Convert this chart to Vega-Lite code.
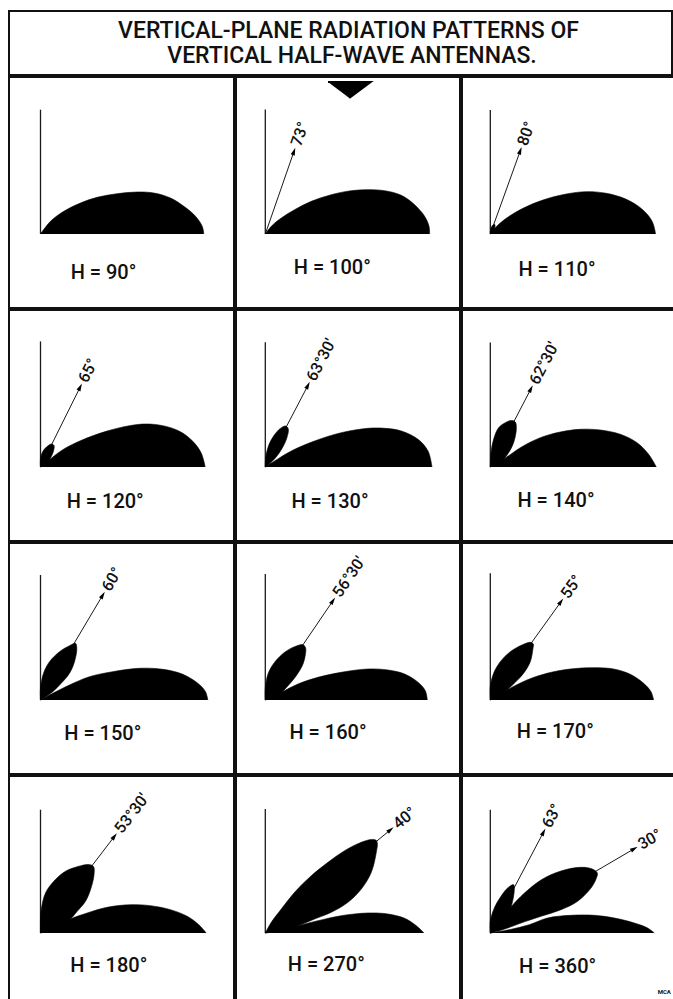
{
  "$schema": "https://vega.github.io/schema/vega-lite/v6.json",
  "padding": {"left": 8, "top": 10, "right": 0, "bottom": 0},
  "background": "white",
  "config": {
    "view": {"stroke": "#111111", "strokeWidth": 2},
    "font": "Roboto",
    "concat": {"spacing": 0},
    "facet": {"spacing": 0}
  },
  "spacing": 0,
  "vconcat": [
    {
      "width": 663,
      "height": 64,
      "data": {"values": [
        {"t": "VERTICAL-PLANE RADIATION PATTERNS OF", "x": 339.5, "y": 37.3},
        {"t": "VERTICAL HALF-WAVE ANTENNAS.", "x": 343, "y": 12}
      ]},
      "mark": {"type": "text", "font": "Roboto", "fontSize": 23, "fontWeight": 500, "align": "center", "baseline": "alphabetic", "color": "#111111"},
      "encoding": {
        "x": {"field": "x", "type": "quantitative", "scale": {"domain": [0, 663]}, "axis": null},
        "y": {"field": "y", "type": "quantitative", "scale": {"domain": [0, 64]}, "axis": null},
        "text": {"field": "t"}
      }
    },
    {
      "data": {"values": [
        {"p":1,"k":"A","u":0,"v":0,"v2":124.3},
        {"p":2,"k":"A","u":0,"v":0,"v2":124.4},
        {"p":3,"k":"A","u":0,"v":0,"v2":124},
        {"p":4,"k":"A","u":0,"v":0,"v2":125.6},
        {"p":5,"k":"A","u":0,"v":0,"v2":124.7},
        {"p":6,"k":"A","u":0,"v":0,"v2":124.4},
        {"p":7,"k":"A","u":0,"v":0,"v2":125},
        {"p":8,"k":"A","u":0,"v":0,"v2":126},
        {"p":9,"k":"A","u":0,"v":0,"v2":126.7},
        {"p":10,"k":"A","u":0,"v":0,"v2":123.3},
        {"p":11,"k":"A","u":0,"v":0,"v2":124},
        {"p":12,"k":"A","u":0,"v":0,"v2":123.3},

        {"p":1,"k":"H","u":63,"v":-38.7,"t":"H = 90°"},
        {"p":2,"k":"H","u":67,"v":-34,"t":"H = 100°"},
        {"p":3,"k":"H","u":66.7,"v":-36,"t":"H = 110°"},
        {"p":4,"k":"H","u":64.7,"v":-35.3,"t":"H = 120°"},
        {"p":5,"k":"H","u":64.7,"v":-35,"t":"H = 130°"},
        {"p":6,"k":"H","u":65.7,"v":-34,"t":"H = 140°"},
        {"p":7,"k":"H","u":62.3,"v":-34.3,"t":"H = 150°"},
        {"p":8,"k":"H","u":62.7,"v":-33.3,"t":"H = 160°"},
        {"p":9,"k":"H","u":65,"v":-32,"t":"H = 170°"},
        {"p":10,"k":"H","u":68.3,"v":-32.7,"t":"H = 180°"},
        {"p":11,"k":"H","u":61,"v":-32,"t":"H = 270°"},
        {"p":12,"k":"H","u":67.3,"v":-34.3,"t":"H = 360°"},
        {"p":12,"k":"W","u":174,"v":-59,"t":"MCA"},

        {"p":2,"k":"R","u":28.7,"v":82.7,"deg":70.9,"t":"73°"},
        {"p":3,"k":"R","u":30,"v":83.3,"deg":70.2,"t":"80°"},
        {"p":4,"k":"R","u":39.7,"v":80,"deg":63.6,"t":"65°"},
        {"p":5,"k":"R","u":42.7,"v":81.7,"deg":62.4,"t":"63°30'"},
        {"p":6,"k":"R","u":40.7,"v":78.3,"deg":62.5,"t":"62°30'"},
        {"p":7,"k":"R","u":62.3,"v":105,"deg":59.3,"t":"60°"},
        {"p":8,"k":"R","u":67.7,"v":99.3,"deg":55.7,"t":"56°30'"},
        {"p":9,"k":"R","u":70.7,"v":98.3,"deg":54.3,"t":"55°"},
        {"p":10,"k":"R","u":74,"v":96.7,"deg":52.6,"t":"53°30'"},
        {"p":11,"k":"R","u":125.3,"v":103.3,"deg":39.5,"t":"40°"},
        {"p":12,"k":"R","u":53.3,"v":101,"deg":62.2,"t":"63°"},
        {"p":12,"k":"R","u":144,"v":84.3,"deg":30.3,"t":"30°"},

        {"p":2,"k":"M","i":0,"u":62.7,"v":152},
        {"p":2,"k":"M","i":1,"u":105.4,"v":152},
        {"p":2,"k":"M","i":2,"u":84,"v":136},

        {"p":1,"k":"L","g":"1a","i":0,"u":163.3,"v":0},
        {"p":1,"k":"L","g":"1a","i":1,"u":161.7,"v":7.7},
        {"p":1,"k":"L","g":"1a","i":2,"u":155,"v":17.7},
        {"p":1,"k":"L","g":"1a","i":3,"u":143.3,"v":27.7},
        {"p":1,"k":"L","g":"1a","i":4,"u":130,"v":36},
        {"p":1,"k":"L","g":"1a","i":5,"u":113.3,"v":41},
        {"p":1,"k":"L","g":"1a","i":6,"u":96.7,"v":42},
        {"p":1,"k":"L","g":"1a","i":7,"u":76.7,"v":40.3},
        {"p":1,"k":"L","g":"1a","i":8,"u":56.7,"v":36.7},
        {"p":1,"k":"L","g":"1a","i":9,"u":40,"v":31},
        {"p":1,"k":"L","g":"1a","i":10,"u":23.3,"v":22.7},
        {"p":1,"k":"L","g":"1a","i":11,"u":10,"v":12.7},
        {"p":1,"k":"L","g":"1a","i":12,"u":0,"v":0},

        {"p":2,"k":"L","g":"2a","i":0,"u":164.3,"v":0},
        {"p":2,"k":"L","g":"2a","i":1,"u":163.7,"v":7.7},
        {"p":2,"k":"L","g":"2a","i":2,"u":159.3,"v":17.7},
        {"p":2,"k":"L","g":"2a","i":3,"u":149.3,"v":29.3},
        {"p":2,"k":"L","g":"2a","i":4,"u":136,"v":38.7},
        {"p":2,"k":"L","g":"2a","i":5,"u":119.3,"v":43.3},
        {"p":2,"k":"L","g":"2a","i":6,"u":102.7,"v":44.3},
        {"p":2,"k":"L","g":"2a","i":7,"u":86,"v":43.3},
        {"p":2,"k":"L","g":"2a","i":8,"u":66,"v":39.3},
        {"p":2,"k":"L","g":"2a","i":9,"u":46,"v":32.7},
        {"p":2,"k":"L","g":"2a","i":10,"u":29.3,"v":24.3},
        {"p":2,"k":"L","g":"2a","i":11,"u":16,"v":16},
        {"p":2,"k":"L","g":"2a","i":12,"u":6,"v":7.7},
        {"p":2,"k":"L","g":"2a","i":13,"u":0,"v":0},

        {"p":3,"k":"L","g":"3a","i":0,"u":165.3,"v":0},
        {"p":3,"k":"L","g":"3a","i":1,"u":162,"v":12.3},
        {"p":3,"k":"L","g":"3a","i":2,"u":152.7,"v":24},
        {"p":3,"k":"L","g":"3a","i":3,"u":136,"v":34.7},
        {"p":3,"k":"L","g":"3a","i":4,"u":116,"v":40.7},
        {"p":3,"k":"L","g":"3a","i":5,"u":96,"v":42.3},
        {"p":3,"k":"L","g":"3a","i":6,"u":76,"v":40},
        {"p":3,"k":"L","g":"3a","i":7,"u":52.7,"v":34},
        {"p":3,"k":"L","g":"3a","i":8,"u":32.7,"v":25.7},
        {"p":3,"k":"L","g":"3a","i":9,"u":16,"v":15.7},
        {"p":3,"k":"L","g":"3a","i":10,"u":6,"v":7.3},
        {"p":3,"k":"L","g":"3a","i":11,"u":0,"v":0},
        {"p":3,"k":"L","g":"3b","i":0,"u":0,"v":0},
        {"p":3,"k":"L","g":"3b","i":1,"u":0.5,"v":5},
        {"p":3,"k":"L","g":"3b","i":2,"u":2.5,"v":9},
        {"p":3,"k":"L","g":"3b","i":3,"u":4.5,"v":9.5},
        {"p":3,"k":"L","g":"3b","i":4,"u":4.5,"v":6},
        {"p":3,"k":"L","g":"3b","i":5,"u":2.5,"v":2},
        {"p":3,"k":"L","g":"3b","i":6,"u":0,"v":0},

        {"p":4,"k":"L","g":"4a","i":0,"u":164.7,"v":0},
        {"p":4,"k":"L","g":"4a","i":1,"u":160.7,"v":14},
        {"p":4,"k":"L","g":"4a","i":2,"u":152.3,"v":25.7},
        {"p":4,"k":"L","g":"4a","i":3,"u":139,"v":35.7},
        {"p":4,"k":"L","g":"4a","i":4,"u":122.3,"v":41.3},
        {"p":4,"k":"L","g":"4a","i":5,"u":105.7,"v":43},
        {"p":4,"k":"L","g":"4a","i":6,"u":89,"v":41.3},
        {"p":4,"k":"L","g":"4a","i":7,"u":65.7,"v":35.7},
        {"p":4,"k":"L","g":"4a","i":8,"u":42.3,"v":27.3},
        {"p":4,"k":"L","g":"4a","i":9,"u":22.3,"v":17.3},
        {"p":4,"k":"L","g":"4a","i":10,"u":9,"v":7.3},
        {"p":4,"k":"L","g":"4a","i":11,"u":0,"v":0},
        {"p":4,"k":"L","g":"4b","i":0,"u":0,"v":0},
        {"p":4,"k":"L","g":"4b","i":1,"u":0,"v":8},
        {"p":4,"k":"L","g":"4b","i":2,"u":2,"v":15},
        {"p":4,"k":"L","g":"4b","i":3,"u":6,"v":20},
        {"p":4,"k":"L","g":"4b","i":4,"u":11,"v":23},
        {"p":4,"k":"L","g":"4b","i":5,"u":13.5,"v":21.5},
        {"p":4,"k":"L","g":"4b","i":6,"u":13,"v":16},
        {"p":4,"k":"L","g":"4b","i":7,"u":10,"v":9},
        {"p":4,"k":"L","g":"4b","i":8,"u":5,"v":3},
        {"p":4,"k":"L","g":"4b","i":9,"u":0,"v":0},

        {"p":5,"k":"L","g":"5a","i":0,"u":166.7,"v":0},
        {"p":5,"k":"L","g":"5a","i":1,"u":162.7,"v":16},
        {"p":5,"k":"L","g":"5a","i":2,"u":152.7,"v":27.7},
        {"p":5,"k":"L","g":"5a","i":3,"u":136,"v":36},
        {"p":5,"k":"L","g":"5a","i":4,"u":119.3,"v":38.7},
        {"p":5,"k":"L","g":"5a","i":5,"u":102.7,"v":38.7},
        {"p":5,"k":"L","g":"5a","i":6,"u":76,"v":34.3},
        {"p":5,"k":"L","g":"5a","i":7,"u":49.3,"v":26},
        {"p":5,"k":"L","g":"5a","i":8,"u":26,"v":16},
        {"p":5,"k":"L","g":"5a","i":9,"u":9.3,"v":6},
        {"p":5,"k":"L","g":"5a","i":10,"u":0,"v":0},
        {"p":5,"k":"L","g":"5b","i":0,"u":0,"v":0},
        {"p":5,"k":"L","g":"5b","i":1,"u":0.5,"v":10},
        {"p":5,"k":"L","g":"5b","i":2,"u":3.5,"v":22},
        {"p":5,"k":"L","g":"5b","i":3,"u":9,"v":32},
        {"p":5,"k":"L","g":"5b","i":4,"u":15,"v":38.5},
        {"p":5,"k":"L","g":"5b","i":5,"u":20.5,"v":41},
        {"p":5,"k":"L","g":"5b","i":6,"u":23,"v":38},
        {"p":5,"k":"L","g":"5b","i":7,"u":21.5,"v":29},
        {"p":5,"k":"L","g":"5b","i":8,"u":17,"v":19},
        {"p":5,"k":"L","g":"5b","i":9,"u":10.5,"v":9.5},
        {"p":5,"k":"L","g":"5b","i":10,"u":4,"v":3},
        {"p":5,"k":"L","g":"5b","i":11,"u":0,"v":0},

        {"p":6,"k":"L","g":"6a","i":0,"u":166,"v":0},
        {"p":6,"k":"L","g":"6a","i":1,"u":158.3,"v":12.7},
        {"p":6,"k":"L","g":"6a","i":2,"u":146.7,"v":24.3},
        {"p":6,"k":"L","g":"6a","i":3,"u":130,"v":32.7},
        {"p":6,"k":"L","g":"6a","i":4,"u":110,"v":37},
        {"p":6,"k":"L","g":"6a","i":5,"u":90,"v":37.7},
        {"p":6,"k":"L","g":"6a","i":6,"u":70,"v":35},
        {"p":6,"k":"L","g":"6a","i":7,"u":50,"v":29.3},
        {"p":6,"k":"L","g":"6a","i":8,"u":30,"v":19.3},
        {"p":6,"k":"L","g":"6a","i":9,"u":13.3,"v":7.7},
        {"p":6,"k":"L","g":"6a","i":10,"u":0,"v":0},
        {"p":6,"k":"L","g":"6b","i":0,"u":0,"v":0},
        {"p":6,"k":"L","g":"6b","i":1,"u":0.7,"v":14.3},
        {"p":6,"k":"L","g":"6b","i":2,"u":3.3,"v":27.7},
        {"p":6,"k":"L","g":"6b","i":3,"u":8.3,"v":39.3},
        {"p":6,"k":"L","g":"6b","i":4,"u":15,"v":44.3},
        {"p":6,"k":"L","g":"6b","i":5,"u":21,"v":46.5},
        {"p":6,"k":"L","g":"6b","i":6,"u":25,"v":45},
        {"p":6,"k":"L","g":"6b","i":7,"u":26,"v":37.7},
        {"p":6,"k":"L","g":"6b","i":8,"u":23.3,"v":24.3},
        {"p":6,"k":"L","g":"6b","i":9,"u":18.3,"v":14.3},
        {"p":6,"k":"L","g":"6b","i":10,"u":11.7,"v":6},
        {"p":6,"k":"L","g":"6b","i":11,"u":5,"v":2},
        {"p":6,"k":"L","g":"6b","i":12,"u":0,"v":0},

        {"p":7,"k":"L","g":"7a","i":0,"u":167.3,"v":0},
        {"p":7,"k":"L","g":"7a","i":1,"u":165,"v":8.3},
        {"p":7,"k":"L","g":"7a","i":2,"u":157.3,"v":16.7},
        {"p":7,"k":"L","g":"7a","i":3,"u":142.3,"v":25.7},
        {"p":7,"k":"L","g":"7a","i":4,"u":122.3,"v":30.7},
        {"p":7,"k":"L","g":"7a","i":5,"u":99,"v":31.7},
        {"p":7,"k":"L","g":"7a","i":6,"u":72.3,"v":28.3},
        {"p":7,"k":"L","g":"7a","i":7,"u":49,"v":23.3},
        {"p":7,"k":"L","g":"7a","i":8,"u":29,"v":15},
        {"p":7,"k":"L","g":"7a","i":9,"u":12.3,"v":6.7},
        {"p":7,"k":"L","g":"7a","i":10,"u":0,"v":0},
        {"p":7,"k":"L","g":"7b","i":0,"u":0,"v":0},
        {"p":7,"k":"L","g":"7b","i":1,"u":0,"v":11.7},
        {"p":7,"k":"L","g":"7b","i":2,"u":3,"v":26.7},
        {"p":7,"k":"L","g":"7b","i":3,"u":9,"v":38.3},
        {"p":7,"k":"L","g":"7b","i":4,"u":19,"v":48.3},
        {"p":7,"k":"L","g":"7b","i":5,"u":29,"v":54.3},
        {"p":7,"k":"L","g":"7b","i":6,"u":35,"v":56.7},
        {"p":7,"k":"L","g":"7b","i":7,"u":36.3,"v":51.7},
        {"p":7,"k":"L","g":"7b","i":8,"u":34,"v":38.3},
        {"p":7,"k":"L","g":"7b","i":9,"u":29,"v":26.7},
        {"p":7,"k":"L","g":"7b","i":10,"u":20.7,"v":16.7},
        {"p":7,"k":"L","g":"7b","i":11,"u":12.3,"v":8.3},
        {"p":7,"k":"L","g":"7b","i":12,"u":5,"v":3},
        {"p":7,"k":"L","g":"7b","i":13,"u":0,"v":0},

        {"p":8,"k":"L","g":"8a","i":0,"u":162,"v":0},
        {"p":8,"k":"L","g":"8a","i":1,"u":160,"v":9.3},
        {"p":8,"k":"L","g":"8a","i":2,"u":152.7,"v":17.7},
        {"p":8,"k":"L","g":"8a","i":3,"u":139.3,"v":26},
        {"p":8,"k":"L","g":"8a","i":4,"u":122.7,"v":30},
        {"p":8,"k":"L","g":"8a","i":5,"u":102.7,"v":31},
        {"p":8,"k":"L","g":"8a","i":6,"u":76,"v":27.7},
        {"p":8,"k":"L","g":"8a","i":7,"u":52.7,"v":22.7},
        {"p":8,"k":"L","g":"8a","i":8,"u":32.7,"v":16},
        {"p":8,"k":"L","g":"8a","i":9,"u":16,"v":7.7},
        {"p":8,"k":"L","g":"8a","i":10,"u":0,"v":0},
        {"p":8,"k":"L","g":"8b","i":0,"u":0,"v":0},
        {"p":8,"k":"L","g":"8b","i":1,"u":0,"v":11},
        {"p":8,"k":"L","g":"8b","i":2,"u":2.7,"v":26},
        {"p":8,"k":"L","g":"8b","i":3,"u":9.3,"v":37.7},
        {"p":8,"k":"L","g":"8b","i":4,"u":19.3,"v":47.7},
        {"p":8,"k":"L","g":"8b","i":5,"u":29.3,"v":53.3},
        {"p":8,"k":"L","g":"8b","i":6,"u":37.7,"v":55.3},
        {"p":8,"k":"L","g":"8b","i":7,"u":40.3,"v":52},
        {"p":8,"k":"L","g":"8b","i":8,"u":40,"v":45},
        {"p":8,"k":"L","g":"8b","i":9,"u":37.7,"v":36},
        {"p":8,"k":"L","g":"8b","i":10,"u":31,"v":24.3},
        {"p":8,"k":"L","g":"8b","i":11,"u":22.7,"v":14.3},
        {"p":8,"k":"L","g":"8b","i":12,"u":14.3,"v":6},
        {"p":8,"k":"L","g":"8b","i":13,"u":6,"v":2},
        {"p":8,"k":"L","g":"8b","i":14,"u":0,"v":0},

        {"p":9,"k":"L","g":"9a","i":0,"u":163.3,"v":0},
        {"p":9,"k":"L","g":"9a","i":1,"u":160.7,"v":8.3},
        {"p":9,"k":"L","g":"9a","i":2,"u":153.3,"v":16.7},
        {"p":9,"k":"L","g":"9a","i":3,"u":140,"v":25.7},
        {"p":9,"k":"L","g":"9a","i":4,"u":123.3,"v":31},
        {"p":9,"k":"L","g":"9a","i":5,"u":103.3,"v":32.3},
        {"p":9,"k":"L","g":"9a","i":6,"u":80,"v":31},
        {"p":9,"k":"L","g":"9a","i":7,"u":56.7,"v":26.7},
        {"p":9,"k":"L","g":"9a","i":8,"u":36.7,"v":20},
        {"p":9,"k":"L","g":"9a","i":9,"u":16.7,"v":10},
        {"p":9,"k":"L","g":"9a","i":10,"u":0,"v":0},
        {"p":9,"k":"L","g":"9b","i":0,"u":0,"v":0},
        {"p":9,"k":"L","g":"9b","i":1,"u":0,"v":13.3},
        {"p":9,"k":"L","g":"9b","i":2,"u":3.3,"v":26.7},
        {"p":9,"k":"L","g":"9b","i":3,"u":10,"v":38.3},
        {"p":9,"k":"L","g":"9b","i":4,"u":20,"v":48.3},
        {"p":9,"k":"L","g":"9b","i":5,"u":31.7,"v":55},
        {"p":9,"k":"L","g":"9b","i":6,"u":40,"v":57.7},
        {"p":9,"k":"L","g":"9b","i":7,"u":43,"v":56},
        {"p":9,"k":"L","g":"9b","i":8,"u":42.7,"v":51.7},
        {"p":9,"k":"L","g":"9b","i":9,"u":40,"v":38.3},
        {"p":9,"k":"L","g":"9b","i":10,"u":33.3,"v":26.7},
        {"p":9,"k":"L","g":"9b","i":11,"u":25,"v":17.7},
        {"p":9,"k":"L","g":"9b","i":12,"u":16.7,"v":10},
        {"p":9,"k":"L","g":"9b","i":13,"u":7,"v":3.5},
        {"p":9,"k":"L","g":"9b","i":14,"u":0,"v":0},

        {"p":10,"k":"L","g":"10a","i":0,"u":165.7,"v":0},
        {"p":10,"k":"L","g":"10a","i":1,"u":158.3,"v":8.3},
        {"p":10,"k":"L","g":"10a","i":2,"u":146.7,"v":16.7},
        {"p":10,"k":"L","g":"10a","i":3,"u":130,"v":23.3},
        {"p":10,"k":"L","g":"10a","i":4,"u":110,"v":27.3},
        {"p":10,"k":"L","g":"10a","i":5,"u":90,"v":28.3},
        {"p":10,"k":"L","g":"10a","i":6,"u":66.7,"v":25.7},
        {"p":10,"k":"L","g":"10a","i":7,"u":46.7,"v":20},
        {"p":10,"k":"L","g":"10a","i":8,"u":30,"v":14},
        {"p":10,"k":"L","g":"10a","i":9,"u":16.7,"v":6.7},
        {"p":10,"k":"L","g":"10a","i":10,"u":0,"v":0},
        {"p":10,"k":"L","g":"10b","i":0,"u":0,"v":0},
        {"p":10,"k":"L","g":"10b","i":1,"u":0,"v":13.3},
        {"p":10,"k":"L","g":"10b","i":2,"u":0.7,"v":23.3},
        {"p":10,"k":"L","g":"10b","i":3,"u":5,"v":40},
        {"p":10,"k":"L","g":"10b","i":4,"u":13.3,"v":51.7},
        {"p":10,"k":"L","g":"10b","i":5,"u":25,"v":61.7},
        {"p":10,"k":"L","g":"10b","i":6,"u":38.3,"v":66.7},
        {"p":10,"k":"L","g":"10b","i":7,"u":48,"v":68.5},
        {"p":10,"k":"L","g":"10b","i":8,"u":53,"v":66.5},
        {"p":10,"k":"L","g":"10b","i":9,"u":53.5,"v":58},
        {"p":10,"k":"L","g":"10b","i":10,"u":50,"v":43.3},
        {"p":10,"k":"L","g":"10b","i":11,"u":45,"v":31.7},
        {"p":10,"k":"L","g":"10b","i":12,"u":36.7,"v":21.7},
        {"p":10,"k":"L","g":"10b","i":13,"u":30,"v":14},
        {"p":10,"k":"L","g":"10b","i":14,"u":18,"v":7},
        {"p":10,"k":"L","g":"10b","i":15,"u":8,"v":2.5},
        {"p":10,"k":"L","g":"10b","i":16,"u":0,"v":0},

        {"p":11,"k":"L","g":"11a","i":0,"u":158.7,"v":0},
        {"p":11,"k":"L","g":"11a","i":1,"u":151,"v":7.3},
        {"p":11,"k":"L","g":"11a","i":2,"u":139.3,"v":14.7},
        {"p":11,"k":"L","g":"11a","i":3,"u":122.7,"v":19},
        {"p":11,"k":"L","g":"11a","i":4,"u":102.7,"v":20},
        {"p":11,"k":"L","g":"11a","i":5,"u":76,"v":17.3},
        {"p":11,"k":"L","g":"11a","i":6,"u":52.7,"v":12.3},
        {"p":11,"k":"L","g":"11a","i":7,"u":32.7,"v":7.3},
        {"p":11,"k":"L","g":"11a","i":8,"u":16,"v":3.3},
        {"p":11,"k":"L","g":"11a","i":9,"u":0,"v":0},
        {"p":11,"k":"L","g":"11b","i":0,"u":0,"v":0},
        {"p":11,"k":"L","g":"11b","i":1,"u":6,"v":10.7},
        {"p":11,"k":"L","g":"11b","i":2,"u":16,"v":24},
        {"p":11,"k":"L","g":"11b","i":3,"u":29.3,"v":40.7},
        {"p":11,"k":"L","g":"11b","i":4,"u":46,"v":57.3},
        {"p":11,"k":"L","g":"11b","i":5,"u":62.7,"v":70.7},
        {"p":11,"k":"L","g":"11b","i":6,"u":79.3,"v":82.3},
        {"p":11,"k":"L","g":"11b","i":7,"u":96,"v":90.7},
        {"p":11,"k":"L","g":"11b","i":8,"u":106,"v":93.5},
        {"p":11,"k":"L","g":"11b","i":9,"u":110.5,"v":93},
        {"p":11,"k":"L","g":"11b","i":10,"u":112,"v":90},
        {"p":11,"k":"L","g":"11b","i":11,"u":111,"v":80.7},
        {"p":11,"k":"L","g":"11b","i":12,"u":106,"v":60.7},
        {"p":11,"k":"L","g":"11b","i":13,"u":96,"v":44},
        {"p":11,"k":"L","g":"11b","i":14,"u":82.7,"v":30.7},
        {"p":11,"k":"L","g":"11b","i":15,"u":66,"v":20.7},
        {"p":11,"k":"L","g":"11b","i":16,"u":49.3,"v":14},
        {"p":11,"k":"L","g":"11b","i":17,"u":32.7,"v":7.3},
        {"p":11,"k":"L","g":"11b","i":18,"u":16,"v":2.3},
        {"p":11,"k":"L","g":"11b","i":19,"u":0,"v":0},

        {"p":12,"k":"L","g":"12a","i":0,"u":164,"v":0},
        {"p":12,"k":"L","g":"12a","i":1,"u":157.3,"v":5},
        {"p":12,"k":"L","g":"12a","i":2,"u":144,"v":10},
        {"p":12,"k":"L","g":"12a","i":3,"u":124,"v":15},
        {"p":12,"k":"L","g":"12a","i":4,"u":104,"v":17.7},
        {"p":12,"k":"L","g":"12a","i":5,"u":80.7,"v":17.7},
        {"p":12,"k":"L","g":"12a","i":6,"u":57.3,"v":15},
        {"p":12,"k":"L","g":"12a","i":7,"u":39,"v":8.3},
        {"p":12,"k":"L","g":"12a","i":8,"u":20,"v":3.5},
        {"p":12,"k":"L","g":"12a","i":9,"u":0,"v":0},
        {"p":12,"k":"L","g":"12b","i":0,"u":0,"v":0},
        {"p":12,"k":"L","g":"12b","i":1,"u":6,"v":11},
        {"p":12,"k":"L","g":"12b","i":2,"u":17,"v":22},
        {"p":12,"k":"L","g":"12b","i":3,"u":30,"v":36},
        {"p":12,"k":"L","g":"12b","i":4,"u":50.7,"v":53},
        {"p":12,"k":"L","g":"12b","i":5,"u":70.7,"v":62},
        {"p":12,"k":"L","g":"12b","i":6,"u":90.7,"v":65.7},
        {"p":12,"k":"L","g":"12b","i":7,"u":102,"v":64},
        {"p":12,"k":"L","g":"12b","i":8,"u":107,"v":60},
        {"p":12,"k":"L","g":"12b","i":9,"u":105.7,"v":54},
        {"p":12,"k":"L","g":"12b","i":10,"u":100.7,"v":45},
        {"p":12,"k":"L","g":"12b","i":11,"u":87.3,"v":31.7},
        {"p":12,"k":"L","g":"12b","i":12,"u":70.7,"v":23.3},
        {"p":12,"k":"L","g":"12b","i":13,"u":50.7,"v":16.7},
        {"p":12,"k":"L","g":"12b","i":14,"u":30.7,"v":10},
        {"p":12,"k":"L","g":"12b","i":15,"u":17.3,"v":5},
        {"p":12,"k":"L","g":"12b","i":16,"u":7.3,"v":1.7},
        {"p":12,"k":"L","g":"12b","i":17,"u":0,"v":0},
        {"p":12,"k":"L","g":"12c","i":0,"u":0,"v":0},
        {"p":12,"k":"L","g":"12c","i":1,"u":0,"v":11.7},
        {"p":12,"k":"L","g":"12c","i":2,"u":4,"v":25},
        {"p":12,"k":"L","g":"12c","i":3,"u":10.7,"v":36.7},
        {"p":12,"k":"L","g":"12c","i":4,"u":17.3,"v":45},
        {"p":12,"k":"L","g":"12c","i":5,"u":23.3,"v":48.3},
        {"p":12,"k":"L","g":"12c","i":6,"u":24,"v":44},
        {"p":12,"k":"L","g":"12c","i":7,"u":22.3,"v":31.7},
        {"p":12,"k":"L","g":"12c","i":8,"u":19,"v":21.7},
        {"p":12,"k":"L","g":"12c","i":9,"u":10,"v":8},
        {"p":12,"k":"L","g":"12c","i":10,"u":0,"v":0}
      ]},
      "spacing": 0,
      "resolve": {"scale": {"x": "independent", "y": "independent"}},
      "hconcat": [
        {
          "transform": [{"filter": {"field": "p", "oneOf": [1, 4, 7, 10]}}],
          "facet": {"row": {"field": "p", "type": "ordinal", "header": null}},
          "spacing": 0,
          "spec": {
            "width": 225,
            "height": 231,
            "encoding": {
              "x": {"field": "u", "type": "quantitative", "scale": {"domain": [-31.5, 193.5]}, "axis": null},
              "y": {"field": "v", "type": "quantitative", "scale": {"domain": [-74, 157]}, "axis": null}
            },
            "layer": [
              {"transform": [{"filter": "datum.k === 'A'"}], "mark": {"type": "rule", "color": "#1a1a1a", "strokeWidth": 1.3}, "encoding": {"y2": {"field": "v2"}}},
              {"transform": [{"filter": "datum.k === 'R'"}], "mark": {"type": "rule", "color": "#1a1a1a", "strokeWidth": 1}, "encoding": {"x2": {"datum": 0}, "y2": {"datum": 0}}},
              {"transform": [{"filter": "datum.k === 'L'"}], "mark": {"type": "line", "interpolate": "catmull-rom", "fill": "black", "stroke": "black", "strokeWidth": 0.6}, "encoding": {"detail": {"field": "g"}, "order": {"field": "i", "type": "quantitative"}}},
              {"transform": [{"filter": "datum.k === 'M'"}], "mark": {"type": "line", "interpolate": "linear", "fill": "black", "stroke": "black"}, "encoding": {"order": {"field": "i", "type": "quantitative"}}},
              {"transform": [{"filter": "datum.k === 'R'"}], "mark": {"type": "point", "shape": "M1,0L-1,-0.55L-1,0.55Z", "filled": true, "color": "black", "opacity": 1, "size": 60}, "encoding": {"angle": {"field": "deg", "type": "quantitative", "scale": {"domain": [0, 90], "range": [0, -90]}, "legend": null}}},
              {"transform": [{"filter": "datum.k === 'R'"}], "mark": {"type": "text", "align": "left", "baseline": "middle", "dx": 6, "fontSize": 16, "fontWeight": 500, "font": "Roboto", "color": "#111111"}, "encoding": {"text": {"field": "t"}, "angle": {"field": "deg", "type": "quantitative", "scale": {"domain": [0, 90], "range": [0, -90]}, "legend": null}}},
              {"transform": [{"filter": "datum.k === 'H'"}], "mark": {"type": "text", "align": "center", "baseline": "middle", "fontSize": 20, "fontWeight": 500, "font": "Roboto", "color": "#111111"}, "encoding": {"text": {"field": "t"}}}
            ]
          }
        },
        {
          "transform": [{"filter": {"field": "p", "oneOf": [2, 5, 8, 11]}}],
          "facet": {"row": {"field": "p", "type": "ordinal", "header": null}},
          "spacing": 0,
          "spec": {
            "width": 224,
            "height": 231,
            "encoding": {
              "x": {"field": "u", "type": "quantitative", "scale": {"domain": [-29.3, 194.7]}, "axis": null},
              "y": {"field": "v", "type": "quantitative", "scale": {"domain": [-74, 157]}, "axis": null}
            },
            "layer": [
              {"transform": [{"filter": "datum.k === 'A'"}], "mark": {"type": "rule", "color": "#1a1a1a", "strokeWidth": 1.3}, "encoding": {"y2": {"field": "v2"}}},
              {"transform": [{"filter": "datum.k === 'R'"}], "mark": {"type": "rule", "color": "#1a1a1a", "strokeWidth": 1}, "encoding": {"x2": {"datum": 0}, "y2": {"datum": 0}}},
              {"transform": [{"filter": "datum.k === 'L'"}], "mark": {"type": "line", "interpolate": "catmull-rom", "fill": "black", "stroke": "black", "strokeWidth": 0.6}, "encoding": {"detail": {"field": "g"}, "order": {"field": "i", "type": "quantitative"}}},
              {"transform": [{"filter": "datum.k === 'M'"}], "mark": {"type": "line", "interpolate": "linear", "fill": "black", "stroke": "black"}, "encoding": {"order": {"field": "i", "type": "quantitative"}}},
              {"transform": [{"filter": "datum.k === 'R'"}], "mark": {"type": "point", "shape": "M1,0L-1,-0.55L-1,0.55Z", "filled": true, "color": "black", "opacity": 1, "size": 60}, "encoding": {"angle": {"field": "deg", "type": "quantitative", "scale": {"domain": [0, 90], "range": [0, -90]}, "legend": null}}},
              {"transform": [{"filter": "datum.k === 'R'"}], "mark": {"type": "text", "align": "left", "baseline": "middle", "dx": 6, "fontSize": 16, "fontWeight": 500, "font": "Roboto", "color": "#111111"}, "encoding": {"text": {"field": "t"}, "angle": {"field": "deg", "type": "quantitative", "scale": {"domain": [0, 90], "range": [0, -90]}, "legend": null}}},
              {"transform": [{"filter": "datum.k === 'H'"}], "mark": {"type": "text", "align": "center", "baseline": "middle", "fontSize": 20, "fontWeight": 500, "font": "Roboto", "color": "#111111"}, "encoding": {"text": {"field": "t"}}}
            ]
          }
        },
        {
          "transform": [{"filter": {"field": "p", "oneOf": [3, 6, 9, 12]}}],
          "facet": {"row": {"field": "p", "type": "ordinal", "header": null}},
          "spacing": 0,
          "spec": {
            "width": 214,
            "height": 231,
            "encoding": {
              "x": {"field": "u", "type": "quantitative", "scale": {"domain": [-28.3, 185.7]}, "axis": null},
              "y": {"field": "v", "type": "quantitative", "scale": {"domain": [-74, 157]}, "axis": null}
            },
            "layer": [
              {"transform": [{"filter": "datum.k === 'A'"}], "mark": {"type": "rule", "color": "#1a1a1a", "strokeWidth": 1.3}, "encoding": {"y2": {"field": "v2"}}},
              {"transform": [{"filter": "datum.k === 'R'"}], "mark": {"type": "rule", "color": "#1a1a1a", "strokeWidth": 1}, "encoding": {"x2": {"datum": 0}, "y2": {"datum": 0}}},
              {"transform": [{"filter": "datum.k === 'L'"}], "mark": {"type": "line", "interpolate": "catmull-rom", "fill": "black", "stroke": "black", "strokeWidth": 0.6}, "encoding": {"detail": {"field": "g"}, "order": {"field": "i", "type": "quantitative"}}},
              {"transform": [{"filter": "datum.k === 'R'"}], "mark": {"type": "point", "shape": "M1,0L-1,-0.55L-1,0.55Z", "filled": true, "color": "black", "opacity": 1, "size": 60}, "encoding": {"angle": {"field": "deg", "type": "quantitative", "scale": {"domain": [0, 90], "range": [0, -90]}, "legend": null}}},
              {"transform": [{"filter": "datum.k === 'R'"}], "mark": {"type": "text", "align": "left", "baseline": "middle", "dx": 6, "fontSize": 16, "fontWeight": 500, "font": "Roboto", "color": "#111111"}, "encoding": {"text": {"field": "t"}, "angle": {"field": "deg", "type": "quantitative", "scale": {"domain": [0, 90], "range": [0, -90]}, "legend": null}}},
              {"transform": [{"filter": "datum.k === 'H'"}], "mark": {"type": "text", "align": "center", "baseline": "middle", "fontSize": 20, "fontWeight": 500, "font": "Roboto", "color": "#111111"}, "encoding": {"text": {"field": "t"}}},
              {"transform": [{"filter": "datum.k === 'W'"}], "mark": {"type": "text", "align": "center", "baseline": "middle", "fontSize": 6, "fontWeight": "bold", "color": "#111111"}, "encoding": {"text": {"field": "t"}}}
            ]
          }
        }
      ]
    }
  ]
}
